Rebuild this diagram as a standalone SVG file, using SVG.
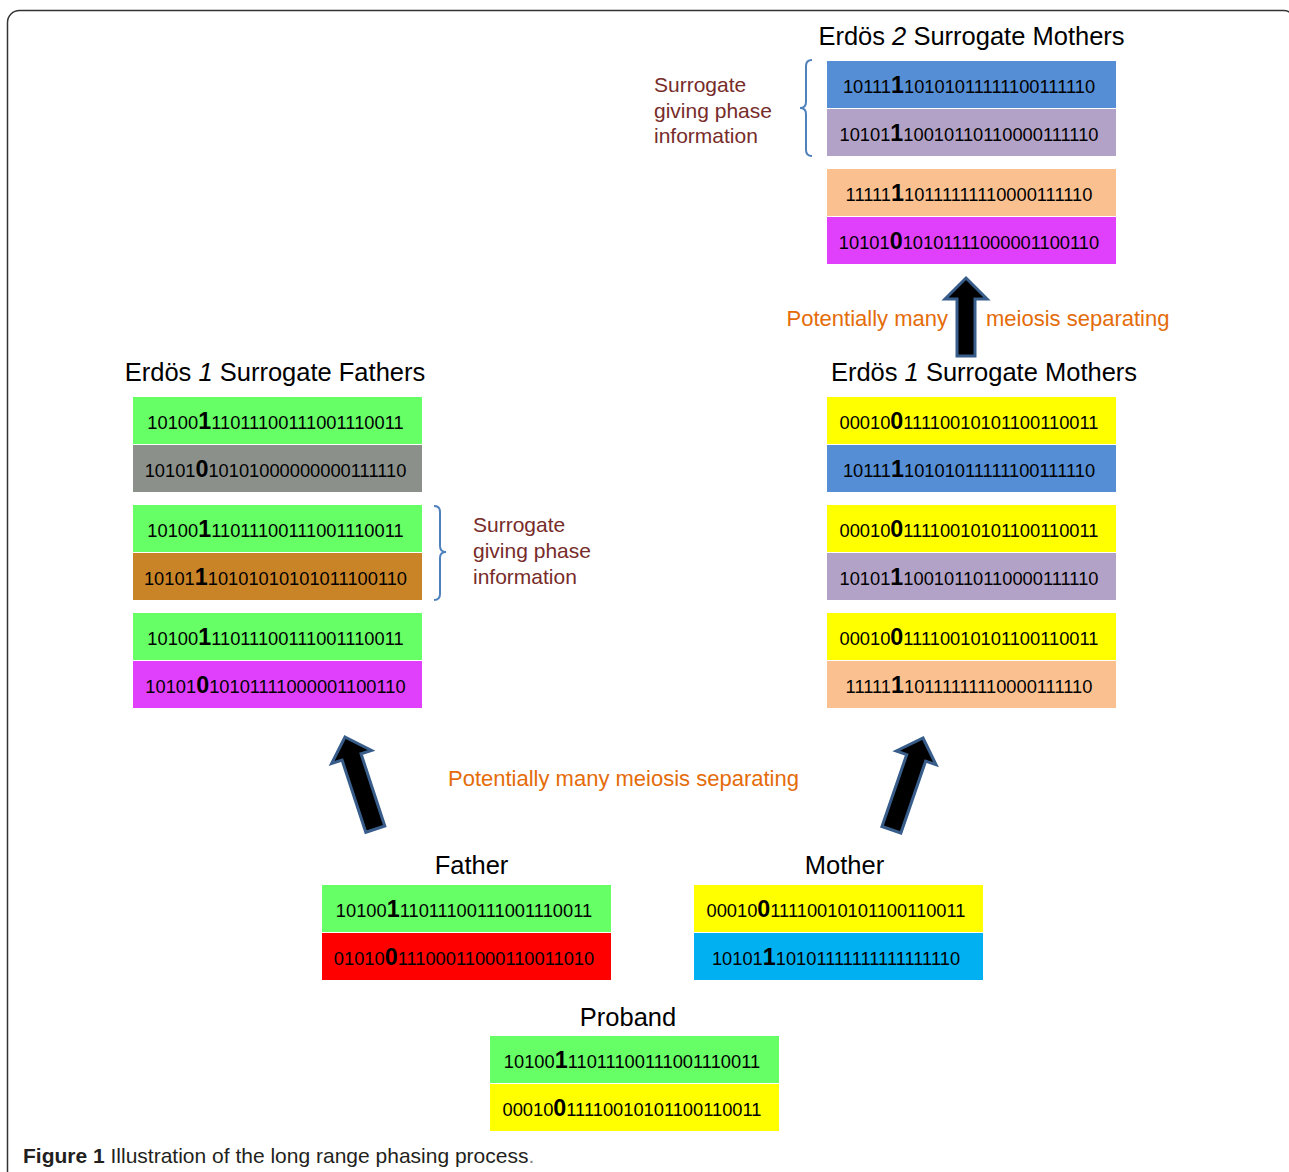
<svg xmlns="http://www.w3.org/2000/svg" width="1289" height="1172" viewBox="0 0 1289 1172">
<style>
text{font-family:"Liberation Sans",Arial,sans-serif}
.bin{font-size:18.3px;fill:#000;text-anchor:middle}
.b{font-weight:bold;font-size:23.3px}
.h{font-size:25.5px;fill:#000;text-anchor:middle}
.lab{font-size:21px;fill:#772C2A}
.or{font-size:22px;fill:#E46C0A}
.arr{fill:#000;stroke:#385D8A;stroke-width:3;stroke-linejoin:miter}
.br{fill:none;stroke:#4F81BD;stroke-width:2}
.green{fill:#66FF66}.gray{fill:#8B908B}.brown{fill:#CA8428}.mag{fill:#E040FB}
.yel{fill:#FFFF00}.blue{fill:#558ED5}.lav{fill:#B3A2C7}.peach{fill:#FAC090}
.red{fill:#FF0000}.cyan{fill:#00B0F0}
</style>
<defs>
<polygon id="diagArrow" class="arr" points="0,0 21,21 10,21 10,97 -10,97 -10,21 -21,21"/>
</defs>
<rect x="7.5" y="10.5" width="1288" height="1200" rx="12" fill="#fff" stroke="#333" stroke-width="1.5"/>

<!-- Erdos 2 Surrogate Mothers -->
<g id="erdos2-mothers">
<text class="h" x="971.5" y="45">Erdös <tspan font-style="italic">2</tspan> Surrogate Mothers</text>
<rect class="blue" x="827" y="61" width="289" height="47"/>
<text class="bin" x="969" y="93">10111<tspan class="b">1</tspan>10101011111100111110</text>
<rect class="lav" x="827" y="109" width="289" height="47"/>
<text class="bin" x="969" y="141">10101<tspan class="b">1</tspan>10010110110000111110</text>
<rect class="peach" x="827" y="169" width="289" height="47"/>
<text class="bin" x="969" y="201">11111<tspan class="b">1</tspan>10111111110000111110</text>
<rect class="mag" x="827" y="217" width="289" height="47"/>
<text class="bin" x="969" y="249">10101<tspan class="b">0</tspan>10101111000001100110</text>
</g>
<g id="label-top">
<text class="lab" x="654" y="92">Surrogate</text>
<text class="lab" x="654" y="118">giving phase</text>
<text class="lab" x="654" y="143">information</text>
</g>

<!-- Erdos 1 Surrogate Fathers -->
<g id="erdos1-fathers">
<text class="h" x="275" y="381">Erdös <tspan font-style="italic">1</tspan> Surrogate Fathers</text>
<rect class="green" x="133" y="397" width="289" height="47"/>
<text class="bin" x="275.5" y="429">10100<tspan class="b">1</tspan>11011100111001110011</text>
<rect class="gray" x="133" y="445" width="289" height="47"/>
<text class="bin" x="275.5" y="477">10101<tspan class="b">0</tspan>10101000000000111110</text>
<rect class="green" x="133" y="505" width="289" height="47"/>
<text class="bin" x="275.5" y="537">10100<tspan class="b">1</tspan>11011100111001110011</text>
<rect class="brown" x="133" y="553" width="289" height="47"/>
<text class="bin" x="275.5" y="585">10101<tspan class="b">1</tspan>10101010101011100110</text>
<rect class="green" x="133" y="613" width="289" height="47"/>
<text class="bin" x="275.5" y="645">10100<tspan class="b">1</tspan>11011100111001110011</text>
<rect class="mag" x="133" y="661" width="289" height="47"/>
<text class="bin" x="275.5" y="693">10101<tspan class="b">0</tspan>10101111000001100110</text>
</g>
<g id="label-left">
<text class="lab" x="473" y="532">Surrogate</text>
<text class="lab" x="473" y="558">giving phase</text>
<text class="lab" x="473" y="584">information</text>
</g>

<!-- Erdos 1 Surrogate Mothers -->
<g id="erdos1-mothers">
<text class="h" x="984" y="381">Erdös <tspan font-style="italic">1</tspan> Surrogate Mothers</text>
<rect class="yel" x="827" y="397" width="289" height="47"/>
<text class="bin" x="969" y="429">00010<tspan class="b">0</tspan>11110010101100110011</text>
<rect class="blue" x="827" y="445" width="289" height="47"/>
<text class="bin" x="969" y="477">10111<tspan class="b">1</tspan>10101011111100111110</text>
<rect class="yel" x="827" y="505" width="289" height="47"/>
<text class="bin" x="969" y="537">00010<tspan class="b">0</tspan>11110010101100110011</text>
<rect class="lav" x="827" y="553" width="289" height="47"/>
<text class="bin" x="969" y="585">10101<tspan class="b">1</tspan>10010110110000111110</text>
<rect class="yel" x="827" y="613" width="289" height="47"/>
<text class="bin" x="969" y="645">00010<tspan class="b">0</tspan>11110010101100110011</text>
<rect class="peach" x="827" y="661" width="289" height="47"/>
<text class="bin" x="969" y="693">11111<tspan class="b">1</tspan>10111111110000111110</text>
</g>

<!-- Father -->
<g id="father">
<text class="h" x="471.5" y="874">Father</text>
<rect class="green" x="322" y="885" width="289" height="47"/>
<text class="bin" x="464" y="917">10100<tspan class="b">1</tspan>11011100111001110011</text>
<rect class="red" x="322" y="933" width="289" height="47"/>
<text class="bin" x="464" y="965">01010<tspan class="b">0</tspan>11100011000110011010</text>
</g>

<!-- Mother -->
<g id="mother">
<text class="h" x="844.5" y="874">Mother</text>
<rect class="yel" x="694" y="885" width="289" height="47"/>
<text class="bin" x="836" y="917">00010<tspan class="b">0</tspan>11110010101100110011</text>
<rect class="cyan" x="694" y="933" width="289" height="47"/>
<text class="bin" x="836" y="965">10101<tspan class="b">1</tspan>10101111111111111110</text>
</g>

<!-- Proband -->
<g id="proband">
<text class="h" x="628" y="1026">Proband</text>
<rect class="green" x="490" y="1036" width="289" height="47"/>
<text class="bin" x="632" y="1068">10100<tspan class="b">1</tspan>11011100111001110011</text>
<rect class="yel" x="490" y="1084" width="289" height="47"/>
<text class="bin" x="632" y="1116">00010<tspan class="b">0</tspan>11110010101100110011</text>
</g>

<!-- Connectors -->
<g id="connectors">
<polygon class="arr" points="966,278 987,299 975,299 975,356 957,356 957,299 945,299"/>
<use href="#diagArrow" transform="translate(345,737) rotate(-18.2)"/>
<use href="#diagArrow" transform="translate(923,738) rotate(19)"/>
<path class="br" d="M434,506 Q440,506 440,512 V546 Q440,552 446,552 Q440,552 440,558 V594 Q440,600 434,600"/>
<path class="br" d="M812,60 Q806,60 806,66 V102 Q806,108 800,108 Q806,108 806,114 V150 Q806,156 812,156"/>
</g>

<g id="meiosis-labels">
<text class="or" x="948" y="326" text-anchor="end">Potentially many</text>
<text class="or" x="986" y="326">meiosis separating</text>
<text class="or" x="448" y="786">Potentially many meiosis separating</text>
</g>

<g id="caption">
<text x="23" y="1163" font-size="21" fill="#231F20"><tspan font-weight="bold">Figure 1</tspan> Illustration of the long range phasing process<tspan fill="#888">.</tspan></text>
</g>
</svg>
